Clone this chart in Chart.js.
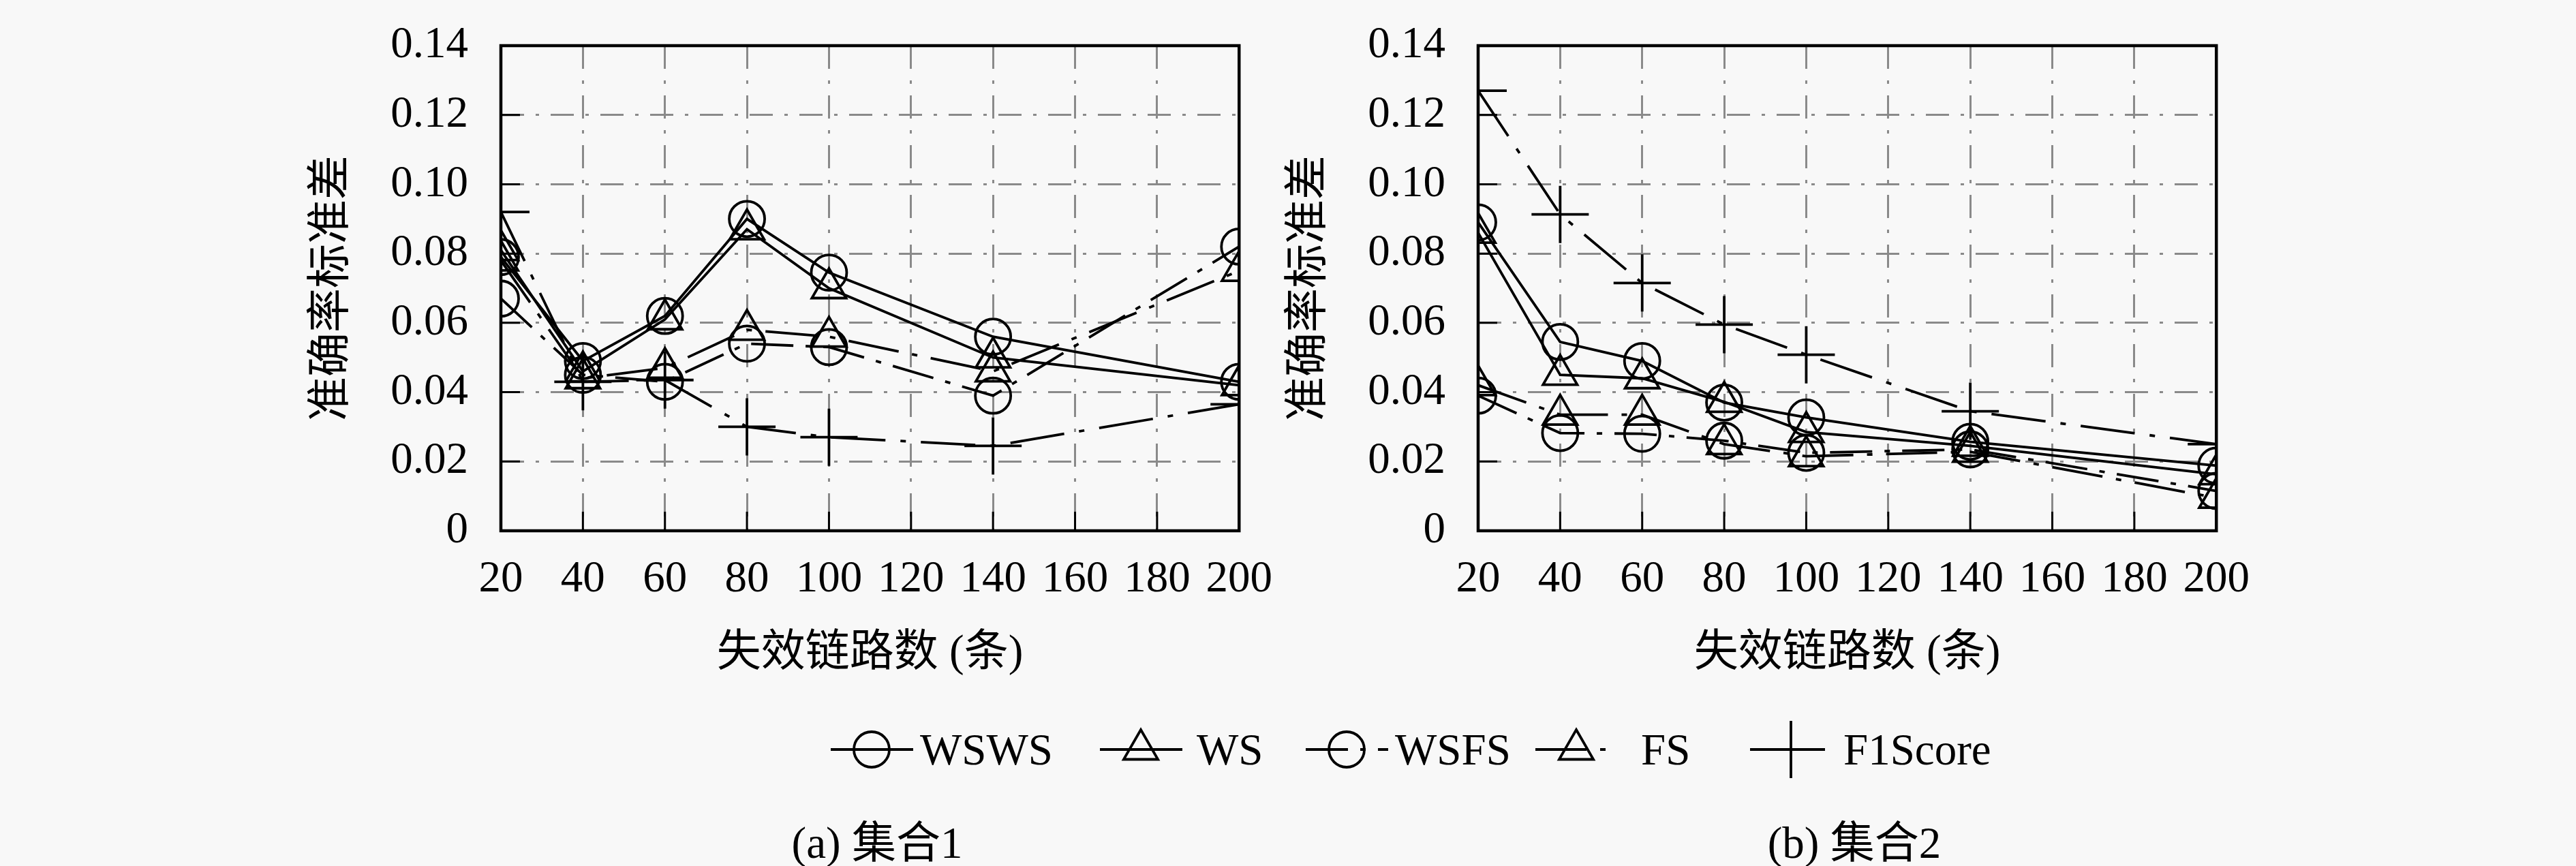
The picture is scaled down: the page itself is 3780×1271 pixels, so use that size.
<!DOCTYPE html>
<html>
<head>
<meta charset="utf-8">
<script src="https://cdn.jsdelivr.net/npm/chart.js@4.4.0/dist/chart.umd.min.js"></script>
<style>
html, body { margin: 0; padding: 0; width: 3780px; height: 1271px; overflow: hidden; background: #f8f8f8; }
canvas.plot { position: absolute; top: -20px; }
.txt { position: absolute; font-family: "Liberation Serif", "Noto Sans CJK SC", serif; font-size: 65px; color: #000; line-height: 1; white-space: nowrap; }
canvas.sym { position: absolute; }
</style>
</head>
<body>
<canvas id="chart1" class="plot" width="1500" height="1030" style="left:400px"></canvas>
<canvas id="chart2" class="plot" width="1500" height="1030" style="left:1834px"></canvas>
<div id="legend"></div>
<div class="txt" id="capA" style="left:1287px;top:1237px;transform:translate(-50%,-50%)">(a) 集合1</div>
<div class="txt" id="capB" style="left:2721px;top:1237px;transform:translate(-50%,-50%)">(b) 集合2</div>
<script>
const xValues = [20, 40, 60, 80, 100, 140, 200]
const xTicks = [20, 40, 60, 80, 100, 120, 140, 160, 180, 200]
const yTicks = [0, 0.02, 0.04, 0.06, 0.08, 0.10, 0.12, 0.14]
const yTickLabels = ['0', '0.02', '0.04', '0.06', '0.08', '0.10', '0.12', '0.14']
const seriesNames = ['WSWS', 'WS', 'WSFS', 'FS', 'F1Score']
const xTitle = '失效链路数 (条)'
const yTitle = '准确率标准差'

// 集合1
const wswsSet1 = [0.079, 0.049, 0.062, 0.090, 0.0745, 0.056, 0.043]
const wsSet1 = [0.081, 0.046, 0.061, 0.087, 0.070, 0.050, 0.042]
const wsfsSet1 = [0.067, 0.045, 0.043, 0.054, 0.053, 0.039, 0.082]
const fsSet1 = [0.078, 0.044, 0.047, 0.058, 0.056, 0.046, 0.075]
const f1Set1 = [0.092, 0.043, 0.0435, 0.030, 0.027, 0.0245, 0.0365]

// 集合2
const wswsSet2 = [0.089, 0.0545, 0.049, 0.037, 0.0327, 0.0257, 0.0188]
const wsSet2 = [0.086, 0.045, 0.044, 0.0372, 0.0285, 0.0245, 0.0163]
const wsfsSet2 = [0.039, 0.0282, 0.028, 0.026, 0.0225, 0.0235, 0.0115]
const fsSet2 = [0.042, 0.0335, 0.0335, 0.025, 0.0215, 0.0228, 0.0095]
const f1Set2 = [0.127, 0.0913, 0.0715, 0.0595, 0.0508, 0.0345, 0.025]

const styles = [
    { pointStyle: 'circle', radius: 26, dash: [] },
    { pointStyle: 'triangle', radius: 29, dash: [] },
    { pointStyle: 'circle', radius: 26, dash: [62, 18, 8, 18] },
    { pointStyle: 'triangle', radius: 29, dash: [75, 20, 8, 20] },
    { pointStyle: 'cross', radius: 42, dash: [80, 22, 8, 22] }
]

const fontFamily = '"Liberation Serif", "Noto Sans CJK SC", serif'
const font = { family: fontFamily, size: 65, lineHeight: 1.2 }
const gridColor = '#8a8a8a'

Chart.defaults.color = '#000'
Chart.defaults.font.family = fontFamily

const frameTicks = {
    id: 'frameTicks',
    afterDatasetsDraw(chart) {
        const { ctx, chartArea: a, scales: { x, y } } = chart
        ctx.save()
        ctx.setLineDash([])
        ctx.strokeStyle = '#000'
        ctx.lineWidth = 3
        ctx.beginPath()
        xTicks.forEach(v => {
            const px = x.getPixelForValue(v)
            ctx.moveTo(px, a.bottom)
            ctx.lineTo(px, a.bottom - 28)
        })
        yTicks.forEach(v => {
            const py = y.getPixelForValue(v)
            ctx.moveTo(a.left, py)
            ctx.lineTo(a.left + 28, py)
        })
        ctx.stroke()
        ctx.lineWidth = 4.5
        ctx.strokeRect(a.left, a.top, a.right - a.left, a.bottom - a.top)
        ctx.restore()
    }
}

function makeChart(id, seriesList) {
    const datasets = seriesList.map((values, i) => ({
        label: seriesNames[i],
        data: values.map((v, j) => ({ x: xValues[j], y: v })),
        borderColor: '#000',
        borderWidth: 3.8,
        borderDash: styles[i].dash,
        backgroundColor: 'transparent',
        pointStyle: styles[i].pointStyle,
        pointRadius: styles[i].radius,
        pointBorderWidth: 3.8,
        pointBorderColor: '#000',
        pointBackgroundColor: 'transparent',
        tension: 0,
        clip: 0
    }))
    return new Chart(document.getElementById(id), {
        type: 'line',
        data: { datasets },
        options: {
            responsive: false,
            animation: false,
            devicePixelRatio: 1,
            layout: { padding: { top: 43, right: 61, bottom: 0, left: 0 } },
            plugins: { legend: { display: false }, tooltip: { enabled: false } },
            scales: {
                x: {
                    type: 'linear', min: 20, max: 200,
                    afterBuildTicks: s => { s.ticks = xTicks.map(v => ({ value: v })) },
                    afterFit: s => { s.height = 231 },
                    grid: { color: gridColor, lineWidth: 3, drawTicks: false },
                    border: { display: false, dash: [34, 17, 5, 17] },
                    ticks: { font, color: '#000', padding: 33, maxRotation: 0, autoSkip: false },
                    title: { display: true, text: xTitle, font, color: '#000', padding: { top: 0, bottom: 11 } }
                },
                y: {
                    type: 'linear', min: 0, max: 0.14,
                    afterBuildTicks: s => { s.ticks = yTicks.map(v => ({ value: v })) },
                    afterFit: s => { s.width = 335 },
                    grid: { color: gridColor, lineWidth: 3, drawTicks: false },
                    border: { display: false, dash: [34, 17, 5, 17] },
                    ticks: { font, color: '#000', padding: 48, callback: (v, i) => yTickLabels[i] },
                    title: { display: true, text: yTitle, font, color: '#000', padding: { top: 49, bottom: 0 } }
                }
            }
        },
        plugins: [frameTicks]
    })
}

makeChart('chart1', [wswsSet1, wsSet1, wsfsSet1, fsSet1, f1Set1])
makeChart('chart2', [wswsSet2, wsSet2, wsfsSet2, fsSet2, f1Set2])

// legend: symbol left, text left
const legendPos = [[1219, 1350], [1614, 1756], [1916, 2047], [2253, 2408], [2568, 2705]]
const legendY = 1100
const legend = document.getElementById('legend')

function drawMarker(ctx, style, cx, cy) {
    const r = style.radius
    ctx.beginPath()
    if (style.pointStyle === 'circle') {
        ctx.arc(cx, cy, r, 0, Math.PI * 2)
    } else if (style.pointStyle === 'triangle') {
        for (let k = 0; k < 3; k++) {
            const a = k * 2 * Math.PI / 3
            const px = cx + Math.sin(a) * r, py = cy - Math.cos(a) * r
            if (k === 0) ctx.moveTo(px, py); else ctx.lineTo(px, py)
        }
        ctx.closePath()
    } else {
        ctx.moveTo(cx, cy - r); ctx.lineTo(cx, cy + r)
        ctx.moveTo(cx - r, cy); ctx.lineTo(cx + r, cy)
    }
    ctx.stroke()
}

seriesNames.forEach((name, i) => {
    const [sx, tx] = legendPos[i]
    const c = document.createElement('canvas')
    c.className = 'sym'
    c.width = 121
    c.height = 100
    c.style.left = sx + 'px'
    c.style.top = (legendY - 50) + 'px'
    const ctx = c.getContext('2d')
    ctx.strokeStyle = '#000'
    ctx.lineWidth = 3.8
    ctx.setLineDash(styles[i].dash)
    ctx.beginPath()
    ctx.moveTo(0, 50)
    ctx.lineTo(121, 50)
    ctx.stroke()
    ctx.setLineDash([])
    drawMarker(ctx, styles[i], 60, 50)
    legend.appendChild(c)

    const t = document.createElement('div')
    t.className = 'txt'
    t.textContent = name
    t.style.left = tx + 'px'
    t.style.top = legendY + 'px'
    t.style.transform = 'translateY(-50%)'
    legend.appendChild(t)
})
</script>
</body>
</html>
